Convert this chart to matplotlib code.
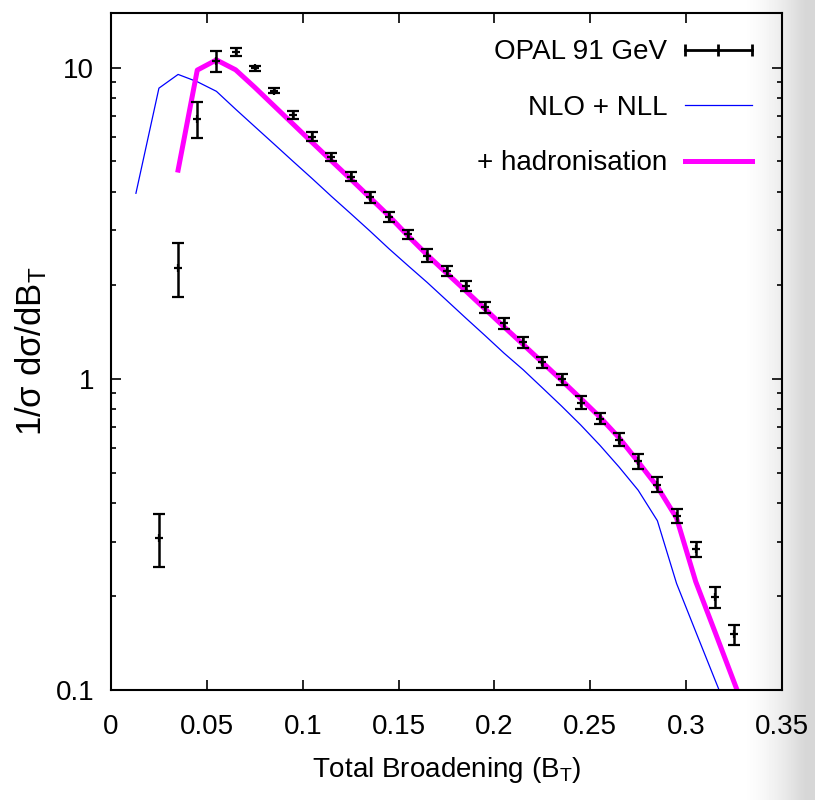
import numpy as np
import matplotlib
matplotlib.use('Agg')
import matplotlib.pyplot as plt
from matplotlib import ticker
from matplotlib.lines import Line2D
from matplotlib.legend_handler import HandlerBase
from matplotlib.container import ErrorbarContainer

plt.rcParams['font.family'] = ['Liberation Sans', 'DejaVu Sans']
plt.rcParams['mathtext.default'] = 'regular'

# OPAL 91 GeV data
opal_x = [0.025, 0.035, 0.045, 0.055, 0.065, 0.075, 0.085, 0.095, 0.105, 0.115,
          0.125, 0.135, 0.145, 0.155, 0.165, 0.175, 0.185, 0.195, 0.205, 0.215,
          0.225, 0.235, 0.245, 0.255, 0.265, 0.275, 0.285, 0.295, 0.305, 0.315, 0.325]
opal_y = [0.308, 2.28, 6.86, 10.5, 11.25, 9.95, 8.44, 7.06, 6.0, 5.18,
          4.47, 3.83, 3.32, 2.92, 2.49, 2.22, 1.99, 1.70, 1.51, 1.31,
          1.13, 0.996, 0.839, 0.745, 0.638, 0.543, 0.457, 0.363, 0.283, 0.199, 0.151]
opal_err = [0.06, 0.45, 0.9, 0.8, 0.3, 0.2, 0.15, 0.2, 0.2, 0.15,
            0.15, 0.15, 0.12, 0.1, 0.12, 0.08, 0.07, 0.07, 0.06, 0.05,
            0.05, 0.04, 0.04, 0.03, 0.03, 0.03, 0.025, 0.02, 0.015, 0.016, 0.011]

# NLO + NLL
nll_x = [0.013, 0.025, 0.035, 0.045, 0.055, 0.065, 0.075, 0.085, 0.095, 0.105,
         0.115, 0.125, 0.135, 0.145, 0.155, 0.165, 0.175, 0.185, 0.195, 0.205,
         0.215, 0.225, 0.235, 0.245, 0.255, 0.265, 0.275, 0.285, 0.295, 0.305,
         0.315, 0.325]
nll_y = [3.95, 8.6, 9.52, 9.02, 8.4, 7.36, 6.47, 5.69, 5.0, 4.40,
         3.86, 3.40, 2.99, 2.62, 2.31, 2.04, 1.79, 1.57, 1.38, 1.21,
         1.07, 0.936, 0.818, 0.711, 0.612, 0.521, 0.4385, 0.35, 0.22, 0.154,
         0.108, 0.076]

# + hadronisation
had_x = [0.035, 0.045, 0.055, 0.065, 0.075, 0.085, 0.095, 0.105, 0.115, 0.125,
         0.135, 0.145, 0.155, 0.165, 0.175, 0.185, 0.195, 0.205, 0.215, 0.225,
         0.235, 0.245, 0.255, 0.265, 0.275, 0.285, 0.295, 0.305, 0.315, 0.325, 0.335]
had_y = [4.69, 9.83, 10.6, 9.85, 8.65, 7.55, 6.59, 5.75, 5.02, 4.39,
         3.83, 3.34, 2.88, 2.50, 2.19, 1.92, 1.68, 1.47, 1.29, 1.13,
         0.99, 0.865, 0.754, 0.647, 0.541, 0.45, 0.357, 0.223, 0.154, 0.106, 0.073]

xticks = [0, 0.05, 0.1, 0.15, 0.2, 0.25, 0.3, 0.35]
yticks = [0.1, 1, 10]


class ErrKey(HandlerBase):
    # gnuplot style errorbar key: horizontal bar with caps and a centre tick
    def create_artists(self, legend, orig_handle, xdescent, ydescent,
                       width, height, fontsize, trans):
        y = height / 2 - ydescent
        x0 = -xdescent
        x1 = x0 + width
        bar = Line2D([x0, x1], [y, y], color='black', lw=2)
        caps = Line2D([x0, x0 + width / 2, x1], [y, y, y], ls='none', marker='|',
                      ms=8, mew=2, color='black')
        bar.set_transform(trans)
        caps.set_transform(trans)
        return [bar, caps]


fig = plt.figure(figsize=(8.15, 8.0), dpi=100)

# grey shading on the right edge
bg = fig.add_axes([0, 0, 1, 1], zorder=-1)
px = np.arange(815)
shade = 1 - 0.16 * np.clip((px - 740) / 65.0, 0, 1) ** 1.6
bg.imshow(np.tile(shade, (10, 1)), cmap='gray', vmin=0, vmax=1, aspect='auto',
          extent=[0, 1, 0, 1])
bg.axis('off')

ax = fig.add_axes([111 / 815, 1 - 690 / 800, 671 / 815, 677 / 800])
ax.set_facecolor('none')

eb = ax.errorbar(opal_x, opal_y, yerr=opal_err, fmt='+', color='black', ms=6, mew=1.6,
                 elinewidth=1.8, capsize=4.5, capthick=2.2, zorder=4)
l1, = ax.plot(nll_x, nll_y, color='#0000ff', lw=0.9)
l2, = ax.plot(had_x, had_y, color='#ff00ff', lw=3.6)

ax.set_yscale('log')
ax.set_xlim(0, 0.35)
ax.set_ylim(0.1, 15)
ax.set_xticks(xticks)
ax.set_yticks(yticks)
ax.xaxis.set_major_formatter(ticker.FormatStrFormatter('%g'))
ax.yaxis.set_major_formatter(ticker.FormatStrFormatter('%g'))
ax.yaxis.set_minor_formatter(ticker.NullFormatter())
ax.tick_params(which='both', direction='in', top=True, right=True, width=1.2)
ax.tick_params(which='major', length=7)
ax.tick_params(which='minor', length=3.5)
ax.tick_params(axis='x', labelsize=20, pad=17)
ax.tick_params(axis='y', labelsize=20, pad=12)
for s in ax.spines.values():
    s.set_linewidth(1.5)

ax.set_xlabel('Total Broadening (B$_T$)', fontsize=20, labelpad=11)
ax.set_ylabel('1/σ dσ/dB$_T$', fontsize=25, labelpad=5)

leg = ax.legend([eb, l1, l2], ['OPAL 91 GeV', 'NLO + NLL', '+ hadronisation'],
                loc='upper right', bbox_to_anchor=(0.955, 0.961), markerfirst=False,
                frameon=False, fontsize=20, handlelength=2.4, handletextpad=0.65,
                labelspacing=1.06, borderpad=0, borderaxespad=0,
                handler_map={ErrorbarContainer: ErrKey()})

fig.savefig('out.png', dpi=100)
